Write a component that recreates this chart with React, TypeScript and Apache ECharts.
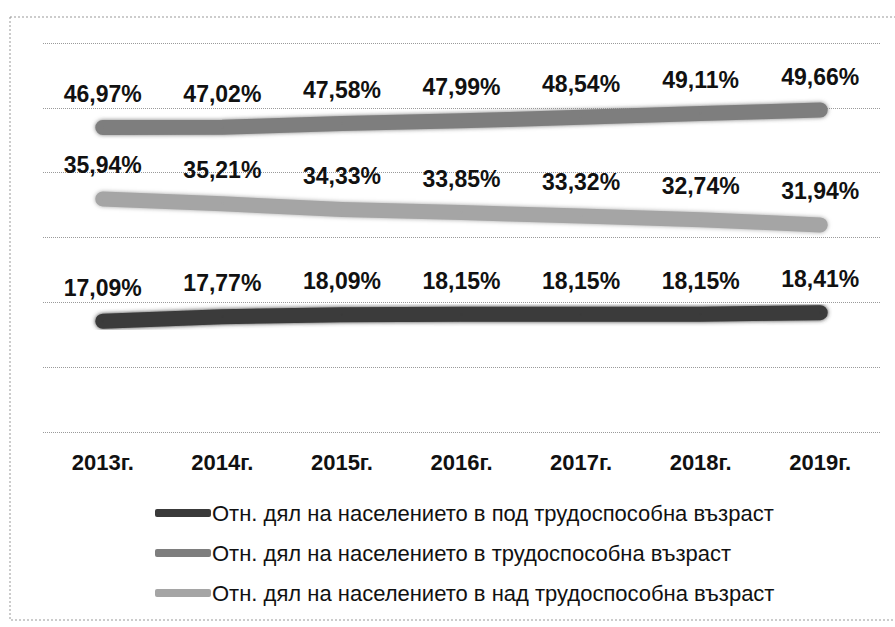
import React, { useEffect, useRef } from "react";
import * as echarts from "echarts";

const years = ["2013г.", "2014г.", "2015г.", "2016г.", "2017г.", "2018г.", "2019г."];
const underAge = [17.09, 17.77, 18.09, 18.15, 18.15, 18.15, 18.41];
const workingAge = [46.97, 47.02, 47.58, 47.99, 48.54, 49.11, 49.66];
const overAge = [35.94, 35.21, 34.33, 33.85, 33.32, 32.74, 31.94];
const seriesNames = [
  "Отн. дял на населението в под трудоспособна възраст",
  "Отн. дял на населението в трудоспособна възраст",
  "Отн. дял на населението в над трудоспособна възраст",
];

const FONT = "'Liberation Sans', Arial, sans-serif";

export default function App() {
  const ref = useRef<HTMLDivElement>(null);
  useEffect(() => {
    if (!ref.current) return;
    const chart = echarts.init(ref.current, null, { renderer: "svg" });
    const fmt = (p: any) => Number(p.value).toFixed(2).replace(".", ",") + "%";
    const mk = (name: string, data: number[], color: string) => ({
      name,
      type: "line",
      data,
      symbol: "circle",
      symbolSize: 2,
      showSymbol: true,
      itemStyle: { color },
      lineStyle: { color, width: 15, cap: "round", join: "round", shadowBlur: 4, shadowColor: color },
      labelLayout: { hideOverlap: false },
      label: {
        show: true,
        position: "top",
        distance: 21,
        formatter: fmt,
        color: "#111",
        fontFamily: FONT,
        fontWeight: "bold",
        fontSize: 23,
      },
    });
    chart.setOption({
      animation: false,
      backgroundColor: "#fff",
      grid: { left: 43, right: 15, top: 43, bottom: 195 },
      xAxis: {
        type: "category",
        data: years,
        boundaryGap: true,
        axisLine: { show: false },
        axisTick: { show: false },
        axisLabel: { color: "#111", fontFamily: FONT, fontWeight: "bold", fontSize: 22, margin: 19 },
      },
      yAxis: {
        type: "value",
        min: 0,
        max: 60,
        interval: 10,
        axisLabel: { show: false },
        axisLine: { show: false },
        axisTick: { show: false },
        splitLine: { lineStyle: { color: "#9a9a9a", type: "dotted", width: 1 } },
      },
      legend: {
        orient: "vertical",
        left: 150,
        top: 497,
        itemGap: 18,
        itemWidth: 56,
        itemHeight: 8,
        icon: "roundRect",
        textStyle: { color: "#111", fontFamily: FONT, fontSize: 22, padding: [0, 0, 0, -4] },
        data: seriesNames,
      },
      graphic: [
        {
          type: "rect",
          shape: { x: 10, y: 17, width: 900, height: 603 },
          style: { fill: "none", stroke: "#999", lineWidth: 1, lineDash: [2, 2] },
          silent: true,
        },
      ],
      series: [
        mk(seriesNames[0], underAge, "#3a3a3a"),
        mk(seriesNames[1], workingAge, "#7e7e7e"),
        mk(seriesNames[2], overAge, "#a5a5a5"),
      ],
    });
    return () => chart.dispose();
  }, []);
  return (
    <div
      ref={ref}
      style={{ position: "fixed", left: 0, top: 0, width: 895, height: 627, background: "#fff" }}
    />
  );
}
